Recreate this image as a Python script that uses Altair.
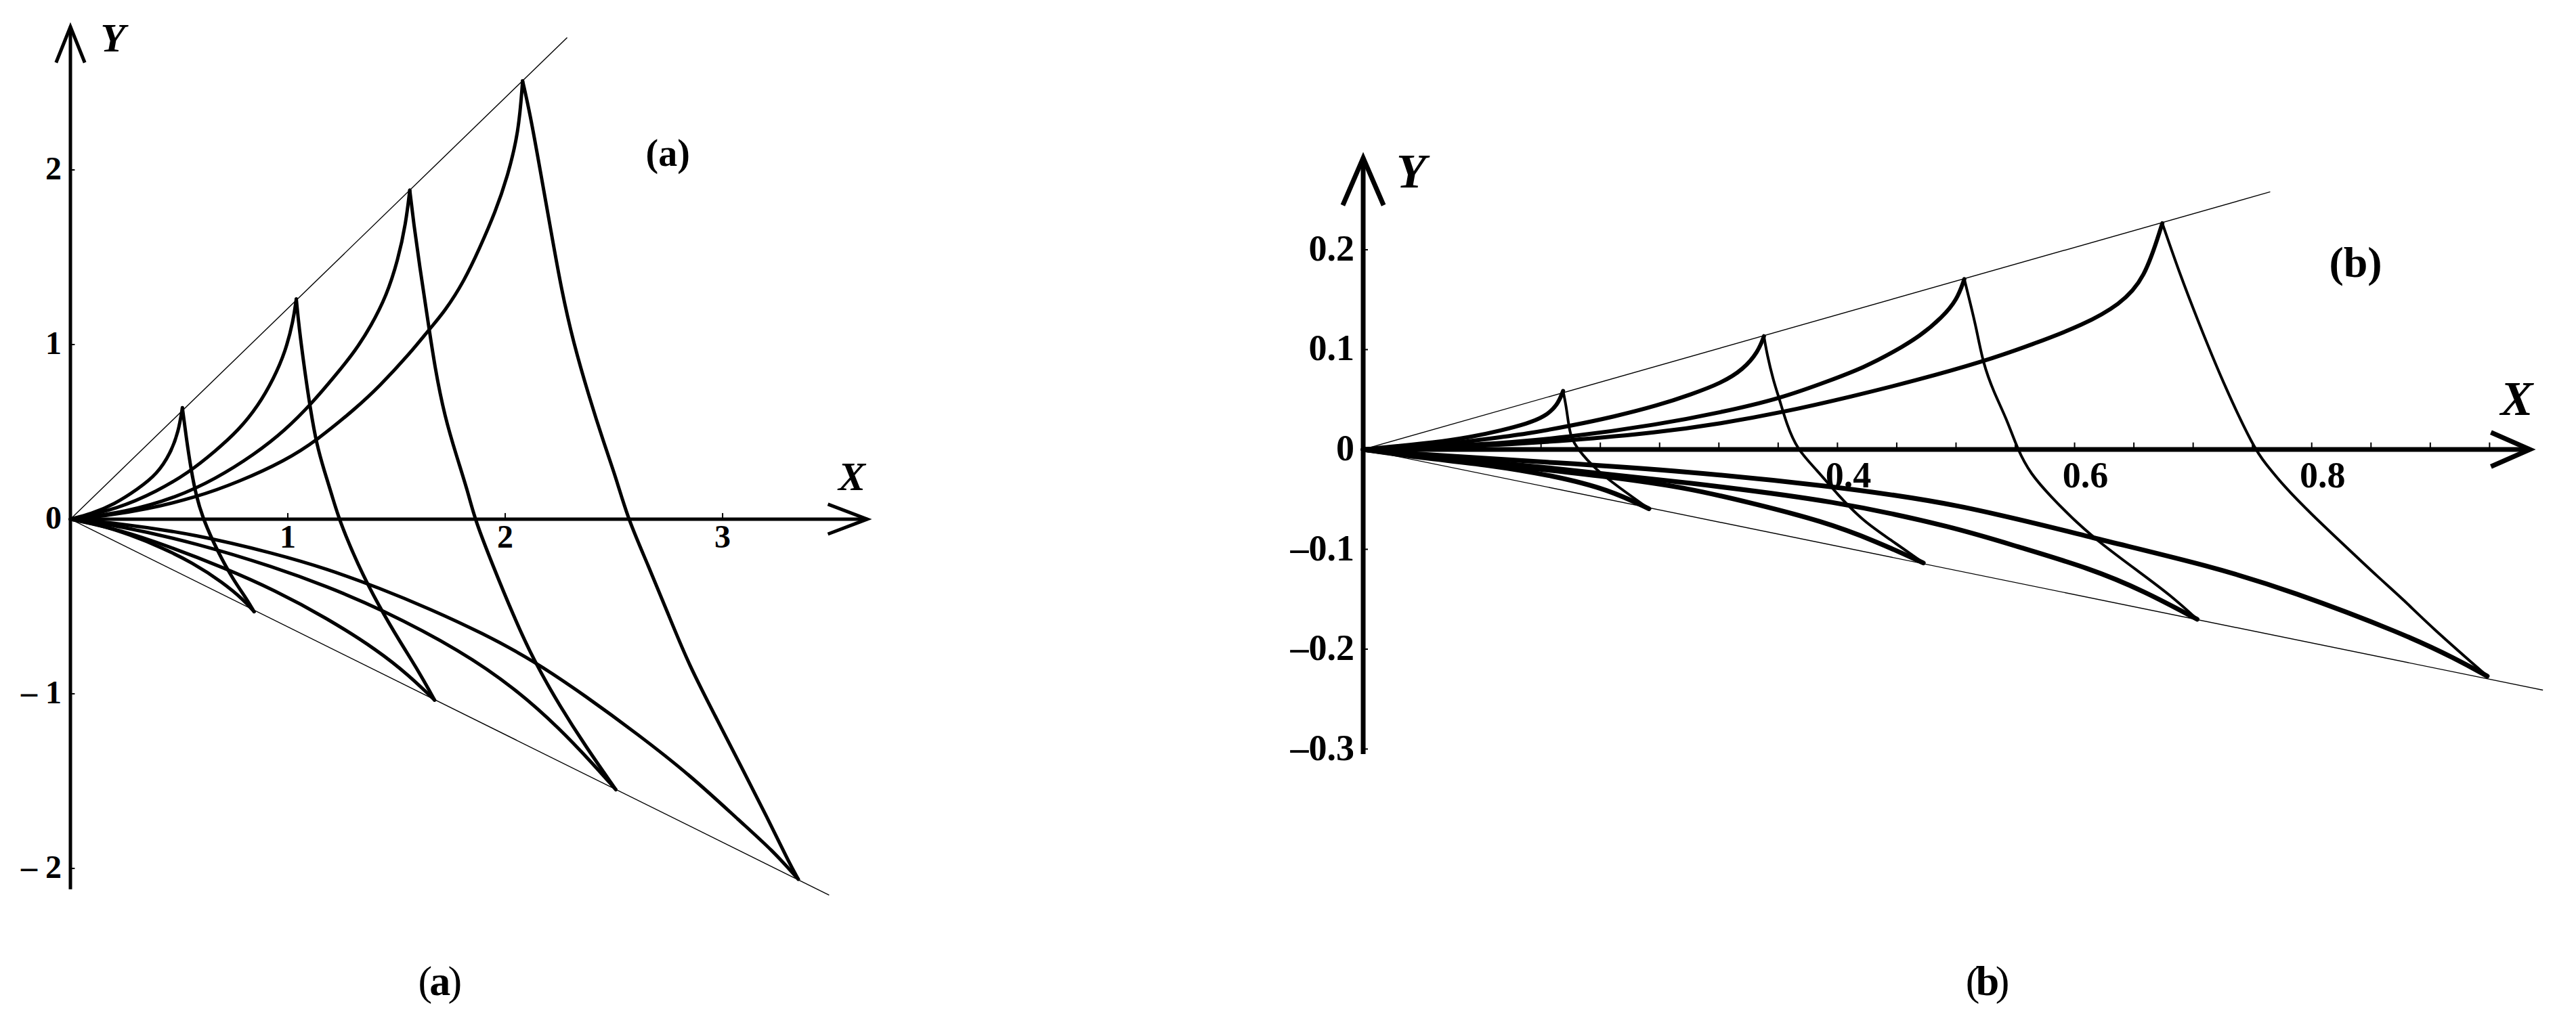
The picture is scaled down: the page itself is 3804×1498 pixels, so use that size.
import altair as alt
import pandas as pd

# ---------------- Panel (a) values ----------------
A_UP_X = [
    [0, 0.095, 0.202, 0.309, 0.399, 0.461, 0.497, 0.515],
    [0, 0.22, 0.399, 0.542, 0.667, 0.774, 0.864, 0.935, 0.989, 1.025, 1.039],
    [0, 0.256, 0.488, 0.667, 0.846, 0.989, 1.114, 1.221, 1.311, 1.382, 1.454, 1.507, 1.543, 1.561],
    [0, 0.166, 0.345, 0.578, 0.774, 0.989, 1.132, 1.311, 1.418, 1.561, 1.65, 1.722, 1.811,
     1.883, 1.955, 2.008, 2.062, 2.08],
]
A_UP_Y = [
    [0, 0.03, 0.085, 0.171, 0.258, 0.379, 0.50, 0.638],
    [0, 0.06, 0.16, 0.265, 0.39, 0.51, 0.65, 0.805, 0.96, 1.135, 1.261],
    [0, 0.04, 0.125, 0.23, 0.37, 0.51, 0.668, 0.826, 0.965, 1.105, 1.279, 1.486, 1.694, 1.884],
    [0, 0.02, 0.055, 0.125, 0.213, 0.336, 0.45, 0.633, 0.756, 0.948, 1.086, 1.19, 1.363,
     1.553, 1.761, 1.951, 2.213, 2.51],
]
A_DOWN_X = [
    [0.515, 0.533, 0.556, 0.578, 0.61, 0.679, 0.75, 0.81, 0.845],
    [1.039, 1.051, 1.078, 1.105, 1.132, 1.168, 1.203, 1.235, 1.322, 1.417, 1.513, 1.608, 1.675],
    [1.561, 1.579, 1.606, 1.642, 1.677, 1.722, 1.776, 1.829, 1.86, 1.942, 2.037, 2.132, 2.252,
     2.371, 2.509],
    [2.08, 2.115, 2.16, 2.214, 2.259, 2.312, 2.384, 2.455, 2.509, 2.565, 2.657, 2.752, 2.847,
     2.967, 3.086, 3.205, 3.30, 3.348],
]
A_DOWN_Y = [
    [0.638, 0.465, 0.275, 0.137, 0.0, -0.19, -0.349, -0.455, -0.53],
    [1.261, 1.105, 0.846, 0.621, 0.431, 0.275, 0.137, 0.0, -0.262, -0.493, -0.696, -0.884, -1.036],
    [1.884, 1.694, 1.452, 1.157, 0.863, 0.586, 0.362, 0.154, 0.0, -0.262, -0.551, -0.811, -1.072,
     -1.303, -1.549],
    [2.51, 2.317, 2.005, 1.625, 1.313, 1.019, 0.708, 0.431, 0.24, 0.0, -0.262, -0.551, -0.84,
     -1.129, -1.419, -1.708, -1.953, -2.062],
]
A_LOW_X = [
    [0, 0.13, 0.274, 0.417, 0.56, 0.702, 0.798, 0.845],
    [0, 0.226, 0.464, 0.702, 0.941, 1.179, 1.417, 1.56, 1.675],
    [0, 0.226, 0.583, 0.941, 1.179, 1.417, 1.799, 2.061, 2.252, 2.395, 2.509],
    [0, 0.226, 0.583, 0.941, 1.179, 1.417, 1.656, 1.894, 2.132, 2.371, 2.609, 2.847, 3.086,
     3.229, 3.348],
]
A_LOW_Y = [
    [0, -0.031, -0.089, -0.161, -0.248, -0.363, -0.464, -0.53],
    [0, -0.06, -0.161, -0.276, -0.407, -0.566, -0.754, -0.898, -1.036],
    [0, -0.038, -0.139, -0.276, -0.385, -0.508, -0.754, -0.985, -1.202, -1.39, -1.549],
    [0, -0.024, -0.089, -0.197, -0.284, -0.392, -0.515, -0.652, -0.811, -1.014, -1.231, -1.462,
     -1.737, -1.896, -2.062],
]
A_BOUND_X = [[0, 2.285], [0, 3.49]]
A_BOUND_Y = [[0, 2.758], [0, -2.153]]
A_XTICKS = [1, 2, 3]
A_XLABELS = ["1", "2", "3"]
A_YTICKS = [-2, -1, 0, 1, 2]
A_YLABELS = ["\u2013 2", "\u2013 1", "0", "1", "2"]
A_XAXIS = [0, 3.665]
A_YAXIS = [-2.12, 2.82]

# ---------------- Panel (b) values ----------------
B_UP_X = [
    [0, 0.029, 0.0581, 0.091, 0.1165, 0.1383, 0.1529, 0.1638, 0.1686],
    [0, 0.0654, 0.102, 0.1383, 0.175, 0.2112, 0.248, 0.2768, 0.302, 0.3205, 0.3332, 0.338],
    [0, 0.102, 0.175, 0.248, 0.302, 0.351, 0.393, 0.4225, 0.448, 0.47, 0.488, 0.5009, 0.507],
    [0, 0.102, 0.175, 0.248, 0.302, 0.353, 0.412, 0.466, 0.523, 0.564, 0.608, 0.638, 0.659, 0.674],
]
B_UP_Y = [
    [0, 0.0034, 0.0067, 0.0124, 0.0191, 0.0259, 0.0327, 0.0439, 0.0586],
    [0, 0.0045, 0.0101, 0.0157, 0.0237, 0.0327, 0.0439, 0.0552, 0.0665, 0.080, 0.098, 0.1134],
    [0, 0.0047, 0.0124, 0.0248, 0.0372, 0.0507, 0.0687, 0.0822, 0.098, 0.1138, 0.1319, 0.1499, 0.1706],
    [0, 0.0034, 0.009, 0.0169, 0.026, 0.037, 0.053, 0.069, 0.088, 0.105, 0.125, 0.145, 0.170, 0.2265],
]
B_DOWN_X = [
    [0.1686, 0.1711, 0.1729, 0.175, 0.181, 0.1958, 0.2156, 0.241],
    [0.338, 0.3405, 0.346, 0.351, 0.357, 0.366, 0.3821, 0.40, 0.4217, 0.4442, 0.4724],
    [0.507, 0.5118, 0.5173, 0.5227, 0.5318, 0.5428, 0.5519, 0.5628, 0.5797, 0.6023, 0.6248,
     0.653, 0.6813, 0.7033],
    [0.674, 0.689, 0.703, 0.725, 0.7519, 0.7604, 0.7773, 0.7999, 0.8281, 0.8563, 0.8778, 0.90, 0.948],
]
B_DOWN_Y = [
    [0.0586, 0.0439, 0.0281, 0.0124, 0.0, -0.0199, -0.0379, -0.0594],
    [0.1134, 0.0958, 0.0687, 0.0507, 0.0259, 0.0, -0.0199, -0.045, -0.0718, -0.0899, -0.1136],
    [0.1706, 0.1476, 0.1206, 0.0868, 0.0574, 0.0304, 0.0, -0.0244, -0.0469, -0.074, -0.0966,
     -0.1214, -0.1463, -0.170],
    [0.2265, 0.175, 0.132, 0.067, 0.0, -0.0131, -0.0379, -0.065, -0.0966, -0.1282, -0.1508,
     -0.177, -0.227],
]
B_LOW_X = [
    [0, 0.049, 0.1055, 0.162, 0.2071, 0.241],
    [0, 0.049, 0.1337, 0.2184, 0.2749, 0.3239, 0.3878, 0.4329, 0.4724],
    [0, 0.049, 0.162, 0.2749, 0.399, 0.5007, 0.5497, 0.6136, 0.6587, 0.7033],
    [0, 0.049, 0.162, 0.2749, 0.3878, 0.5007, 0.6192, 0.7152, 0.7829, 0.8778, 0.922, 0.948],
]
B_LOW_Y = [
    [0, -0.0085, -0.0153, -0.0266, -0.0402, -0.0594],
    [0, -0.0075, -0.0176, -0.0289, -0.039, -0.0526, -0.0718, -0.0921, -0.1136],
    [0, -0.0063, -0.0187, -0.0334, -0.0515, -0.0786, -0.0966, -0.1192, -0.1418, -0.170],
    [0, -0.0052, -0.0131, -0.0221, -0.0357, -0.0537, -0.0898, -0.1169, -0.1418, -0.1847, -0.21, -0.227],
]
B_BOUND_X = [[0, 0.765], [0, 0.995]]
B_BOUND_Y = [[0, 0.258], [0, -0.241]]
B_XTICKS = [0.05, 0.1, 0.15, 0.2, 0.25, 0.3, 0.35, 0.4, 0.45, 0.5,
            0.55, 0.6, 0.65, 0.7, 0.75, 0.8, 0.85, 0.9, 0.95]
B_XLAB_POS = [0.4, 0.6, 0.8]
B_XLABELS = ["0.4", "0.6", "0.8"]
B_YTICKS = [-0.3, -0.2, -0.1, 0, 0.1, 0.2]
B_YLABELS = ["\u20130.3", "\u20130.2", "\u20130.1", "0", "0.1", "0.2"]
B_XAXIS = [0, 0.984]
B_YAXIS = [-0.305, 0.292]

SERIF = "Liberation Serif"


def curves(xs, ys, tag):
    rows = []
    for i, (cx, cy) in enumerate(zip(xs, ys)):
        for a, b in zip(cx, cy):
            rows.append({"x": a, "y": b, "c": f"{tag}{i}"})
    return pd.DataFrame(rows)


def panel(p):
    xs = alt.Scale(domain=p["xdom"], nice=False, zero=False)
    ys = alt.Scale(domain=p["ydom"], nice=False, zero=False)
    X = alt.X("x:Q", scale=xs, axis=None)
    Y = alt.Y("y:Q", scale=ys, axis=None)
    layers = []

    layers.append(alt.Chart(curves(p["bx"], p["by"], "b")).mark_line(
        color="black", strokeWidth=1.4).encode(x=X, y=Y, detail="c:N"))

    for key, sw in p["curves"]:
        xs_l, ys_l = p[key]
        layers.append(alt.Chart(curves(xs_l, ys_l, key)).mark_line(
            color="black", strokeWidth=sw, interpolate="basis",
            strokeCap="round", strokeJoin="round").encode(x=X, y=Y, detail="c:N"))

    ax = pd.DataFrame({"x": [p["xaxis"][0], 0], "x2": [p["xaxis"][1], 0],
                       "y": [0, p["yaxis"][0]], "y2": [0, p["yaxis"][1]]})
    layers.append(alt.Chart(ax).mark_rule(color="black", strokeWidth=p["axw"]).encode(
        x=X, x2="x2:Q", y=Y, y2="y2:Q"))

    ah = pd.DataFrame({"x": [p["xaxis"][1]], "y": [0]})
    layers.append(alt.Chart(ah).mark_point(
        shape=p["xhead"][0], size=p["xhead"][1], filled=False, color="black",
        strokeWidth=p["axw"], opacity=1, strokeJoin="miter").encode(x=X, y=Y))
    ah2 = pd.DataFrame({"x": [0], "y": [p["yaxis"][1]]})
    layers.append(alt.Chart(ah2).mark_point(
        shape=p["yhead"][0], size=p["yhead"][1], filled=False, color="black",
        strokeWidth=p["axw"], opacity=1, strokeJoin="miter").encode(x=X, y=Y))

    xt = pd.DataFrame({"x": p["xticks"], "y": [0] * len(p["xticks"]),
                       "y2": [p["xtlen"]] * len(p["xticks"])})
    layers.append(alt.Chart(xt).mark_rule(color="black", strokeWidth=2).encode(
        x=X, y=Y, y2="y2:Q"))
    yt_vals = [v for v in p["yticks"] if v != 0]
    yt = pd.DataFrame({"x": [0] * len(yt_vals), "x2": [p["ytlen"]] * len(yt_vals),
                       "y": yt_vals})
    layers.append(alt.Chart(yt).mark_rule(color="black", strokeWidth=2).encode(
        x=X, x2="x2:Q", y=Y))

    xl = pd.DataFrame({"x": p["xlabpos"], "y": [0] * len(p["xlabpos"]), "t": p["xlabels"]})
    layers.append(alt.Chart(xl).mark_text(
        font=SERIF, fontSize=p["tfs"], fontWeight="bold", align="center",
        baseline="middle", dx=p["xldx"], dy=p["xldy"], color="black").encode(x=X, y=Y, text="t:N"))
    yl = pd.DataFrame({"x": [0] * len(p["yticks"]), "y": p["yticks"], "t": p["ylabels"]})
    layers.append(alt.Chart(yl).mark_text(
        font=SERIF, fontSize=p["tfs"], fontWeight="bold", align="right",
        baseline="middle", dx=p["yldx"], color="black").encode(x=X, y=Y, text="t:N"))

    nm = pd.DataFrame({"x": [p["Xpos"][0], p["Ypos"][0]], "y": [p["Xpos"][1], p["Ypos"][1]],
                       "t": ["X", "Y"]})
    layers.append(alt.Chart(nm).mark_text(
        font=SERIF, fontSize=p["nfs"], fontStyle="italic", fontWeight="bold",
        align="center", baseline="middle", color="black").encode(x=X, y=Y, text="t:N"))

    tg = pd.DataFrame({"x": [p["tagpos"][0]], "y": [p["tagpos"][1]], "t": [p["tag"]]})
    layers.append(alt.Chart(tg).mark_text(
        font=SERIF, fontSize=p["tagfs"], fontWeight="bold", align="center",
        baseline="middle", color="black").encode(x=X, y=Y, text="t:N"))

    cp = pd.DataFrame({"x": [p["cappos"][0]], "y": [p["cappos"][1]]})
    for txt, dx, wt in [("(", -22, "normal"), (p["tag"][1], 0, "bold"), (")", 22, "normal")]:
        layers.append(alt.Chart(cp).mark_text(
            font=SERIF, fontSize=62, fontWeight=wt, align="center", baseline="middle",
            dx=dx, color="black", text=txt).encode(x=X, y=Y))

    return alt.layer(*layers).properties(width=p["w"], height=p["h"])


PA = dict(
    xdom=[-0.299, 4.037], ydom=[-2.795, 2.942], w=1392, h=1480,
    bx=A_BOUND_X, by=A_BOUND_Y,
    A_UP=(A_UP_X, A_UP_Y), A_DOWN=(A_DOWN_X, A_DOWN_Y), A_LOW=(A_LOW_X, A_LOW_Y),
    curves=[("A_UP", 5), ("A_DOWN", 5), ("A_LOW", 5)],
    xaxis=A_XAXIS, yaxis=A_YAXIS, axw=5,
    xhead=("M-1,-0.38L0,0L-1,0.38", 13456), yhead=("M-0.4,1L0,0L0.4,1", 11236),
    xticks=A_XTICKS, xtlen=0.035, yticks=A_YTICKS, ytlen=0.02,
    xlabpos=A_XTICKS, xlabels=A_XLABELS, ylabels=A_YLABELS,
    tfs=48, xldx=0, xldy=28, yldx=-13,
    Xpos=(3.595, 0.236), Ypos=(0.196, 2.75), nfs=60,
    tag="(a)", tagpos=(2.748, 2.089), tagfs=56,
    cappos=(1.70, -2.65),
)

PB = dict(
    xdom=[-0.0874, 1.0149], ydom=[-0.5586, 0.4447], w=1930, h=1480,
    bx=B_BOUND_X, by=B_BOUND_Y,
    B_UP=(B_UP_X, B_UP_Y), B_DOWN=(B_DOWN_X, B_DOWN_Y), B_LOW=(B_LOW_X, B_LOW_Y),
    curves=[("B_UP", 6), ("B_DOWN", 4), ("B_LOW", 7)],
    xaxis=B_XAXIS, yaxis=B_YAXIS, axw=7,
    xhead=("M-1,-0.44L0,0L-1,0.44", 13225), yhead=("M-0.43,1L0,0L0.43,1", 19600),
    xticks=B_XTICKS, xtlen=0.007, yticks=B_YTICKS, ytlen=0.004,
    xlabpos=B_XLAB_POS, xlabels=B_XLABELS, ylabels=B_YLABELS,
    tfs=54, xldx=16, xldy=40, yldx=-13,
    Xpos=(0.973, 0.0495), Ypos=(0.0405, 0.277), nfs=72,
    tag="(b)", tagpos=(0.837, 0.186), tagfs=64,
    cappos=(0.5266, -0.5336),
)

chart = alt.hconcat(panel(PA), panel(PB), spacing=460, bounds="flush").properties(
    padding=0
).configure_view(strokeWidth=0)

chart.save("out.html", embed_options={"renderer": "svg", "actions": False})
